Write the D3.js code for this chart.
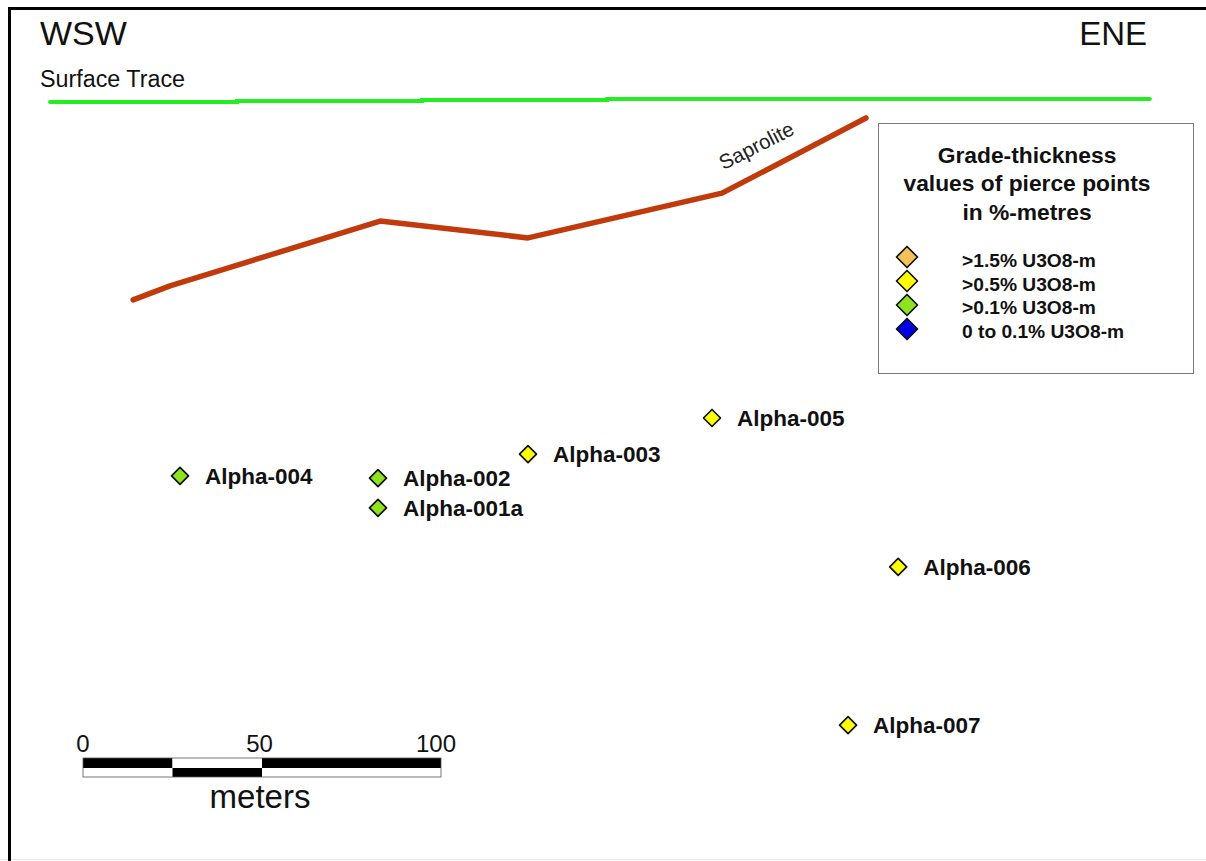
<!DOCTYPE html>
<html>
<head>
<meta charset="utf-8">
<script src="https://cdn.jsdelivr.net/npm/d3@7"></script>
<style>
  html, body { margin: 0; padding: 0; background: #fff; overflow: hidden; }
  svg { display: block; }
  text { font-family: "Liberation Sans", Arial, sans-serif; }
</style>
</head>
<body>
<svg id="chart" width="1206" height="861"></svg>
<script>
// ---------- data (section distance in metres, depth below surface in metres) ----------
const surfaceDist  = [-9.2, 43.0, 94.7, 146.4, 298.0];
const surfaceDepth = [0.84, 0.56, 0.28, 0.0, 0.0];

const saproliteDist  = [14.0, 24.3, 83.0, 124.3, 178.5, 218.7];
const saproliteDepth = [56.1, 52.2, 34.1, 38.8, 26.3, 5.3];

const holeNames  = ["Alpha-004", "Alpha-002", "Alpha-001a", "Alpha-003", "Alpha-005", "Alpha-006", "Alpha-007"];
const holeDist   = [27.1, 82.4, 82.4, 124.3, 175.7, 227.7, 213.7];
const holeDepth  = [105.3, 105.9, 114.2, 99.2, 89.1, 130.7, 174.9];
const holeClass  = [2, 2, 2, 1, 1, 1, 1];   // index into legend classes

const classLabels = [">1.5% U3O8-m", ">0.5% U3O8-m", ">0.1% U3O8-m", "0 to 0.1% U3O8-m"];
const classColors = ["#f5c25a", "#ffff00", "#8fe21e", "#0000e6"];

const legendTitle = ["Grade-thickness", "values of pierce points", "in %-metres"];
const scaleTicks  = [0, 50, 100];
const scaleSegments = [[0, 25], [25, 50], [50, 100]];

// ---------- scales ----------
const svg = d3.select("#chart");
const x = d3.scaleLinear().domain([0, 100]).range([83, 441]);
const y = d3.scaleLinear().domain([0, 100]).range([99, 457]);

// frame (top and left edges visible)
svg.append("line").attr("x1", 0).attr("x2", 1206).attr("y1", 859.5).attr("y2", 859.5)
  .attr("stroke", "#e8e8e8").attr("stroke-width", 1);
svg.append("path").attr("d", "M9.5,861V8.5H1206")
  .attr("fill", "none").attr("stroke", "#000").attr("stroke-width", 3);

// direction labels
svg.append("text").attr("x", 40).attr("y", 45).attr("font-size", 34).attr("fill", "#111").text("WSW");
svg.append("text").attr("x", 1147).attr("y", 45).attr("font-size", 33).attr("text-anchor", "end").attr("fill", "#111").text("ENE");
svg.append("text").attr("x", 40).attr("y", 87).attr("font-size", 23.3).attr("fill", "#111").text("Surface Trace");

// surface trace (stepped)
const surfPts = surfaceDist.map((d, i) => [x(d), y(surfaceDepth[i])]);
svg.append("path")
  .attr("d", d3.line().curve(d3.curveStepAfter)(surfPts))
  .attr("fill", "none").attr("stroke", "#22ee22").attr("stroke-width", 4).attr("stroke-linecap", "round");

// saprolite
const sapPts = saproliteDist.map((d, i) => [x(d), y(saproliteDepth[i])]);
svg.append("path")
  .attr("d", d3.line()(sapPts))
  .attr("fill", "none").attr("stroke", "#c03a0b").attr("stroke-width", 5.5)
  .attr("stroke-linecap", "round").attr("stroke-linejoin", "round");
svg.append("text")
  .attr("transform", `translate(${x(189)},${y(14.8)}) rotate(-27)`)
  .attr("text-anchor", "middle").attr("font-size", 20.5).attr("fill", "#222").text("Saprolite");

// diamond generator
const diamond = (cx, cy, r) => `M${cx},${cy - r}L${cx + r},${cy}L${cx},${cy + r}L${cx - r},${cy}Z`;

// pierce points
const holes = holeNames.map((n, i) => ({ name: n, d: holeDist[i], z: holeDepth[i], c: holeClass[i] }));
const g = svg.append("g");
g.selectAll("path.hole").data(holes).join("path")
  .attr("class", "hole")
  .attr("d", h => diamond(x(h.d), y(h.z), 8.5))
  .attr("fill", h => classColors[h.c]).attr("stroke", "#111").attr("stroke-width", 1.7)
  .attr("stroke-linejoin", "round");
g.selectAll("text.hole").data(holes).join("text")
  .attr("class", "hole")
  .attr("x", h => x(h.d) + 25).attr("y", h => y(h.z) + 8)
  .attr("font-size", 22.5).attr("font-weight", "bold").attr("fill", "#111")
  .text(h => h.name);

// legend
const lg = svg.append("g");
lg.append("rect").attr("x", 878.5).attr("y", 123.5).attr("width", 315).attr("height", 250)
  .attr("fill", "#fff").attr("stroke", "#7a7a7a").attr("stroke-width", 1);
lg.selectAll("text.title").data(legendTitle).join("text")
  .attr("class", "title")
  .attr("x", 1027).attr("y", (d, i) => 162.5 + i * 28.5)
  .attr("text-anchor", "middle").attr("font-size", 22.8).attr("font-weight", "bold").attr("fill", "#111")
  .text(d => d);
lg.selectAll("path.item").data(classLabels).join("path")
  .attr("class", "item")
  .attr("d", (d, i) => diamond(907, 257 + i * 24, 10.5))
  .attr("fill", (d, i) => classColors[i]).attr("stroke", "#111").attr("stroke-width", 1.7)
  .attr("stroke-linejoin", "round");
lg.selectAll("text.item").data(classLabels).join("text")
  .attr("class", "item")
  .attr("x", 962).attr("y", (d, i) => 267 + i * 23.7)
  .attr("font-size", 19.2).attr("font-weight", "bold").attr("fill", "#111")
  .text(d => d);

// scale bar
const sb = svg.append("g");
scaleSegments.forEach((s, i) => {
  sb.append("rect").attr("x", x(s[0])).attr("y", 758).attr("width", x(s[1]) - x(s[0])).attr("height", 10)
    .attr("fill", i % 2 === 0 ? "#000" : "#fff");
  sb.append("rect").attr("x", x(s[0])).attr("y", 768).attr("width", x(s[1]) - x(s[0])).attr("height", 9)
    .attr("fill", i % 2 === 0 ? "#fff" : "#000");
});
sb.append("rect").attr("x", x(0)).attr("y", 758).attr("width", x(100) - x(0)).attr("height", 19)
  .attr("fill", "none").attr("stroke", "#555").attr("stroke-width", 0.8);
sb.selectAll("text.tick").data(scaleTicks).join("text")
  .attr("class", "tick")
  .attr("x", d => x(d) - d * 0.05).attr("y", 752)
  .attr("text-anchor", "middle").attr("font-size", 24).attr("fill", "#111")
  .text(d => d);
sb.append("text").attr("x", 260).attr("y", 808).attr("text-anchor", "middle")
  .attr("font-size", 33).attr("fill", "#111").text("meters");
</script>
</body>
</html>
